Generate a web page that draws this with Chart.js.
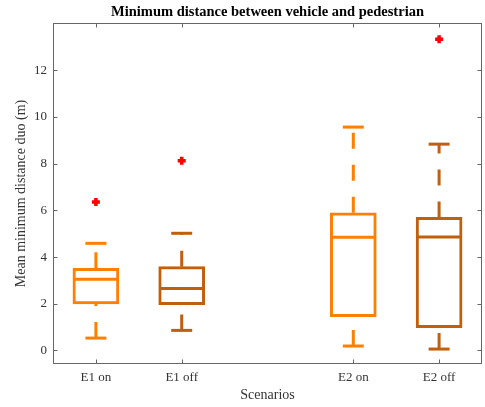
<!DOCTYPE html>
<html>
<head>
<meta charset="utf-8">
<script src="https://cdn.jsdelivr.net/npm/chart.js@4/dist/chart.umd.min.js"></script>
<style>
  html, body { margin: 0; padding: 0; background: #fff; }
  #wrap { width: 485px; height: 407px; }
</style>
</head>
<body>
<div id="wrap"><canvas id="boxChart"></canvas></div>
<script>
// box statistics
const scenarios = ["E1 on", "E1 off", "E2 on", "E2 off"];
const positions = [1, 2, 4, 5];
const lowerWhisker = [0.53, 0.86, 0.19, 0.06];
const q1 = [1.99, 1.96, 1.45, 0.98];
const medians = [3.05, 2.65, 4.85, 4.86];
const q3 = [3.52, 3.59, 5.90, 5.70];
const upperWhisker = [4.59, 5.02, 9.57, 8.84];
const outliers = [[6.36], [8.13], [], [13.33]];
const yTicks = [0, 2, 4, 6, 8, 10, 12];

const colors = ["#FF7F00", "#C0600F", "#FF7F00", "#C0600F"];
const serif = "'Liberation Serif', 'DejaVu Serif', serif";

// whiskers: one dashed line per box, drawn from low to high value
const whiskerSets = positions.map((x, i) => ({
  type: "line",
  data: [
    { x: x, y: lowerWhisker[i] }, { x: x, y: q1[i] }, { x: x, y: null },
    { x: x, y: q3[i] }, { x: x, y: upperWhisker[i] }
  ],
  borderColor: colors[i],
  borderWidth: 3,
  borderDash: [16, 16],
  borderCapStyle: "butt",
  pointRadius: 0,
  spanGaps: false,
  order: 5
}));

const outlierPoints = [];
outliers.forEach((list, i) => list.forEach(v => outlierPoints.push({ x: positions[i], y: v })));

// frame with inward ticks, like the matlab axes box
const frame = {
  id: "frame",
  afterDraw(chart) {
    const { ctx, chartArea: a, scales } = chart;
    ctx.save();
    ctx.strokeStyle = "#666";
    ctx.lineWidth = 1;
    const L = Math.round(a.left) + 0.5, R = Math.round(a.right) - 0.5;
    const T = Math.round(a.top) + 0.5, B = Math.round(a.bottom) - 0.5;
    ctx.strokeRect(L, T, R - L, B - T);
    ctx.beginPath();
    positions.forEach(p => {
      const x = Math.round(scales.x.getPixelForValue(p)) + 0.5;
      ctx.moveTo(x, B); ctx.lineTo(x, B - 4);
      ctx.moveTo(x, T); ctx.lineTo(x, T + 4);
    });
    yTicks.forEach(v => {
      const y = Math.round(scales.y.getPixelForValue(v)) + 0.5;
      ctx.moveTo(L, y); ctx.lineTo(L + 4, y);
      ctx.moveTo(R, y); ctx.lineTo(R - 4, y);
    });
    ctx.stroke();
    ctx.restore();
  }
};

new Chart(document.getElementById("boxChart"), {
  type: "bar",
  data: {
    datasets: [
      {
        type: "scatter",
        data: outlierPoints,
        pointStyle: "cross",
        pointRadius: 4,
        pointBorderWidth: 3.5,
        pointBorderColor: "#FF0000",
        order: 0
      },
      {
        type: "scatter",
        data: positions.map((x, i) => ({ x: x, y: medians[i] })),
        pointStyle: "line",
        pointRadius: 22,
        pointBorderWidth: 3,
        pointBorderColor: colors,
        order: 1
      },
      {
        type: "scatter",
        data: positions.flatMap((x, i) => [{ x: x, y: lowerWhisker[i] }, { x: x, y: upperWhisker[i] }]),
        pointStyle: "line",
        pointRadius: 10.5,
        pointBorderWidth: 3,
        pointBorderColor: positions.flatMap((x, i) => [colors[i], colors[i]]),
        order: 2
      },
      {
        type: "bar",
        data: positions.map((x, i) => ({ x: x, y: [q1[i], q3[i]] })),
        backgroundColor: "rgba(255,255,255,1)",
        borderColor: colors,
        borderWidth: 3,
        borderSkipped: false,
        barThickness: 46,
        order: 3
      },
      ...whiskerSets
    ]
  },
  options: {
    responsive: true,
    maintainAspectRatio: false,
    animation: false,
    layout: { autoPadding: false, padding: { left: 0, right: 3, top: 0, bottom: 0 } },
    plugins: {
      legend: { display: false },
      tooltip: { enabled: false },
      title: {
        display: true,
        text: "Minimum distance between vehicle and pedestrian",
        fullSize: false,
        color: "#000",
        font: { family: serif, size: 14.5, weight: "bold" },
        padding: { top: 4, bottom: 1.6 }
      }
    },
    scales: {
      x: {
        type: "linear",
        min: 0.5,
        max: 5.5,
        offset: false,
        grid: { display: false, drawTicks: false },
        border: { display: false },
        afterBuildTicks: s => { s.ticks = positions.map(v => ({ value: v })); },
        afterFit: s => { s.height = 43; s.paddingLeft = 0; s.paddingRight = 0; },
        ticks: {
          padding: 6,
          color: "#333",
          font: { family: serif, size: 13 },
          callback: v => scenarios[positions.indexOf(v)]
        },
        title: {
          display: true,
          text: "Scenarios",
          color: "#333",
          font: { family: serif, size: 14 },
          padding: { top: 0, bottom: 3 }
        }
      },
      y: {
        min: -0.58,
        max: 14.03,
        grid: { display: false, drawTicks: false },
        border: { display: false },
        afterBuildTicks: s => { s.ticks = yTicks.map(v => ({ value: v })); },
        afterFit: s => { s.width = 53; s.paddingTop = 0; s.paddingBottom = 0; },
        ticks: {
          padding: 6,
          color: "#333",
          font: { family: serif, size: 13 }
        },
        title: {
          display: true,
          text: "Mean minimum distance duo (m)",
          color: "#333",
          font: { family: serif, size: 14 },
          padding: { top: 13, bottom: 0 }
        }
      }
    }
  },
  plugins: [frame]
});
</script>
</body>
</html>
